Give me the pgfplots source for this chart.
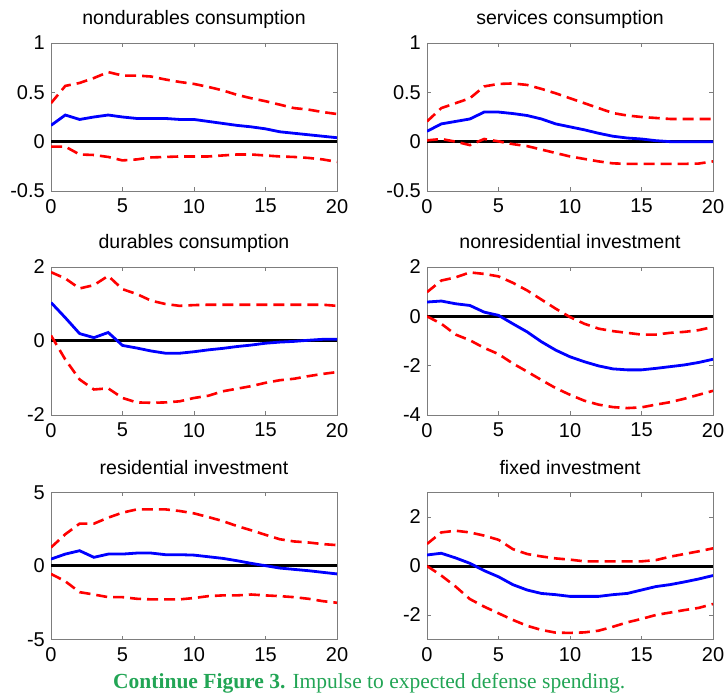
\documentclass[border=0pt]{standalone}
\usepackage{pgfplots}
\usepackage{pgfplotstable}
\pgfplotsset{compat=1.18}
\usepackage{fontspec}
\setmainfont{Liberation Sans}
\newfontfamily\capfont{Liberation Serif}

\definecolor{axgray}{RGB}{125,125,125}
\definecolor{capgreen}{RGB}{34,165,85}

% impulse responses: horizon, median, lower band, upper band
\pgfplotstableread{
k mid lo hi
0 0.165 -0.05 0.39
1 0.27 -0.05 0.565
2 0.225 -0.13 0.595
3 0.25 -0.135 0.645
4 0.27 -0.155 0.705
5 0.25 -0.19 0.67
6 0.235 -0.18 0.67
7 0.235 -0.16 0.66
8 0.235 -0.155 0.63
9 0.225 -0.15 0.605
10 0.225 -0.15 0.585
11 0.205 -0.15 0.555
12 0.185 -0.14 0.52
13 0.165 -0.13 0.475
14 0.15 -0.13 0.44
15 0.13 -0.14 0.41
16 0.10 -0.15 0.375
17 0.085 -0.155 0.34
18 0.07 -0.165 0.325
19 0.055 -0.18 0.30
20 0.04 -0.205 0.28
}\nondur

\pgfplotstableread{
k mid lo hi
0 0.105 0.013 0.205
1 0.18 0.027 0.34
2 0.205 0.0 0.39
3 0.23 -0.035 0.44
4 0.30 0.027 0.56
5 0.30 0.003 0.585
6 0.285 -0.025 0.59
7 0.265 -0.045 0.575
8 0.23 -0.08 0.535
9 0.18 -0.115 0.49
10 0.15 -0.15 0.44
11 0.12 -0.175 0.39
12 0.085 -0.20 0.34
13 0.055 -0.22 0.29
14 0.037 -0.225 0.265
15 0.027 -0.225 0.25
16 0.01 -0.225 0.24
17 0.0 -0.225 0.23
18 0.0 -0.225 0.23
19 0.0 -0.222 0.23
20 0.0 -0.20 0.23
}\services

\pgfplotstableread{
k mid lo hi
0 1.04 0.15 1.86
1 0.63 -0.5 1.69
2 0.20 -1.04 1.42
3 0.09 -1.31 1.51
4 0.23 -1.28 1.76
5 -0.12 -1.54 1.40
6 -0.19 -1.66 1.27
7 -0.27 -1.67 1.09
8 -0.33 -1.66 1.00
9 -0.33 -1.63 0.95
10 -0.29 -1.54 0.97
11 -0.24 -1.48 0.98
12 -0.20 -1.36 0.98
13 -0.15 -1.29 0.98
14 -0.11 -1.22 0.98
15 -0.06 -1.13 0.98
16 -0.03 -1.06 0.98
17 -0.01 -1.02 0.98
18 0.02 -0.95 0.98
19 0.045 -0.89 0.98
20 0.045 -0.84 0.95
}\durables

\pgfplotstableread{
k mid lo hi
0 0.58 0.0 0.98
1 0.62 -0.30 1.45
2 0.51 -0.74 1.58
3 0.44 -0.97 1.78
4 0.17 -1.28 1.72
5 0.04 -1.53 1.62
6 -0.30 -1.91 1.36
7 -0.63 -2.24 1.05
8 -1.03 -2.58 0.68
9 -1.37 -2.91 0.31
10 -1.64 -3.18 -0.03
11 -1.84 -3.42 -0.30
12 -2.01 -3.58 -0.50
13 -2.13 -3.68 -0.60
14 -2.17 -3.72 -0.67
15 -2.17 -3.69 -0.74
16 -2.11 -3.58 -0.74
17 -2.04 -3.48 -0.67
18 -1.97 -3.34 -0.63
19 -1.87 -3.18 -0.56
20 -1.74 -3.02 -0.43
}\nonres

\pgfplotstableread{
k mid lo hi
0 0.47 -0.54 1.26
1 0.81 -1.04 2.16
2 1.04 -1.78 2.88
3 0.59 -1.94 2.88
4 0.81 -2.12 3.29
5 0.81 -2.12 3.63
6 0.88 -2.23 3.85
7 0.88 -2.27 3.85
8 0.77 -2.27 3.85
9 0.77 -2.27 3.74
10 0.74 -2.18 3.58
11 0.63 -2.05 3.33
12 0.52 -2.00 3.06
13 0.36 -2.00 2.72
14 0.18 -1.94 2.43
15 0.02 -2.00 2.12
16 -0.14 -2.05 1.82
17 -0.23 -2.12 1.67
18 -0.32 -2.23 1.60
19 -0.43 -2.39 1.49
20 -0.54 -2.50 1.42
}\resid

\pgfplotstableread{
k mid lo hi
0 0.45 0.0 0.90
1 0.52 -0.39 1.37
2 0.33 -0.84 1.44
3 0.11 -1.35 1.37
4 -0.19 -1.66 1.24
5 -0.44 -1.93 1.07
6 -0.76 -2.20 0.69
7 -0.98 -2.44 0.49
8 -1.12 -2.61 0.39
9 -1.17 -2.72 0.31
10 -1.24 -2.73 0.26
11 -1.24 -2.71 0.19
12 -1.24 -2.64 0.19
13 -1.17 -2.48 0.19
14 -1.12 -2.30 0.19
15 -0.98 -2.16 0.19
16 -0.84 -2.00 0.24
17 -0.76 -1.90 0.38
18 -0.65 -1.80 0.49
19 -0.53 -1.71 0.60
20 -0.39 -1.55 0.72
}\fixedinv

\pgfplotsset{
  irf/.style={
    anchor=south west, scale only axis, width=286pt, height=148pt,
    xmin=0, xmax=20, xtick={0,5,10,15,20}, xticklabels={0,5,10,15,20},
    axis line style={draw=axgray, line width=0.8pt},
    tick style={draw=axgray, line width=0.8pt},
    major tick length=4pt, tick align=inside,
    ticklabel style={font=\fontsize{20}{24}\selectfont, text=black},
    xticklabel style={anchor=north, inner sep=0pt, yshift=-8pt},
    yticklabel style={anchor=east, inner sep=0pt, xshift=-6pt},
    title style={font=\fontsize{19.5}{23}\selectfont, at={(0.5,1)}, anchor=base, yshift=12pt, inner sep=0pt},
  },
  zeroline/.style={black, line width=3pt},
  median/.style={blue, line width=2.8pt},
  band/.style={red, line width=2.6pt, dash pattern=on 11pt off 6pt},
}

\newcommand{\irfplots}[1]{%
  \addplot[zeroline] coordinates {(0,0) (20,0)};
  \addplot[median] table[x=k, y=mid] {#1};
  \addplot[band] table[x=k, y=hi] {#1};
  \addplot[band] table[x=k, y=lo] {#1};
}

\begin{document}
\begin{tikzpicture}[x=1pt, y=1pt]
\useasboundingbox (0,0) rectangle (727,693);

\begin{axis}[irf, at={(51pt,502pt)}, title={nondurables consumption},
  ymin=-0.5, ymax=1, ytick={-0.5,0,0.5,1}, yticklabels={-0.5,0,0.5,1}]
  \irfplots{\nondur}
\end{axis}

\begin{axis}[irf, at={(427pt,502pt)}, title={services consumption},
  ymin=-0.5, ymax=1, ytick={-0.5,0,0.5,1}, yticklabels={-0.5,0,0.5,1}]
  \irfplots{\services}
\end{axis}

\begin{axis}[irf, at={(51pt,278pt)}, title={durables consumption},
  ymin=-2, ymax=2, ytick={-2,0,2}, yticklabels={-2,0,2}]
  \irfplots{\durables}
\end{axis}

\begin{axis}[irf, at={(427pt,278pt)}, title={nonresidential investment},
  ymin=-4, ymax=2, ytick={-4,-2,0,2}, yticklabels={-4,-2,0,2}]
  \irfplots{\nonres}
\end{axis}

\begin{axis}[irf, at={(51pt,53.5pt)}, height=147pt, title={residential investment},
  ymin=-5, ymax=5, ytick={-5,0,5}, yticklabels={-5,0,5}]
  \irfplots{\resid}
\end{axis}

\begin{axis}[irf, at={(427pt,53.5pt)}, height=147pt, title={fixed investment},
  ymin=-3, ymax=3, ytick={-2,0,2}, yticklabels={-2,0,2}]
  \irfplots{\fixedinv}
\end{axis}

\node[anchor=base west, inner sep=0pt, text=capgreen,
      font=\capfont\fontsize{21.5}{25}\selectfont] at (113,5)
  {\textbf{Continue Figure 3.} Impulse to expected defense spending.};
\end{tikzpicture}
\end{document}
